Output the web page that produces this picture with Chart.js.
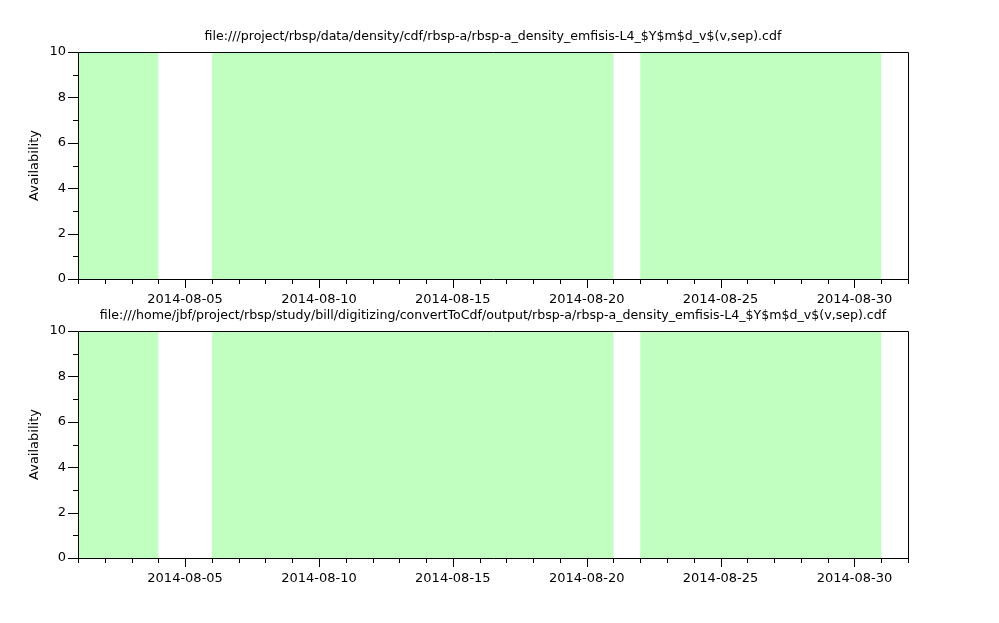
<!DOCTYPE html>
<html>
<head>
<meta charset="utf-8">
<script src="https://cdn.jsdelivr.net/npm/chart.js@4"></script>
<style>
  body { margin: 0; background: #fff; }
  #wrap { position: relative; width: 999px; height: 623px; }
  canvas { position: absolute; left: 0; }
</style>
</head>
<body>
<div id="wrap">
  <canvas id="top" width="999" height="311" style="top:0"></canvas>
  <canvas id="bottom" width="999" height="333" style="top:290px"></canvas>
</div>
<script>
// day of month in August 2014 (32 = 2014-09-01, right edge)
const days = [1, 2, 3, 4, 5, 6, 7, 8, 9, 10, 11, 12, 13, 14, 15, 16,
              17, 18, 19, 20, 21, 22, 23, 24, 25, 26, 27, 28, 29, 30, 31, 32];
// availability per day (10 = file present, 0 = missing)
const availTop = [10, 10, 10, 0, 0, 10, 10, 10, 10, 10, 10, 10, 10, 10, 10, 10,
                  10, 10, 10, 10, 0, 10, 10, 10, 10, 10, 10, 10, 10, 10, 0, 0];
const availBottom = [10, 10, 10, 0, 0, 10, 10, 10, 10, 10, 10, 10, 10, 10, 10, 10,
                     10, 10, 10, 10, 0, 10, 10, 10, 10, 10, 10, 10, 10, 10, 0, 0];
const majorDays = [5, 10, 15, 20, 25, 30];
const yTicks = [0, 2, 4, 6, 8, 10];
const yMinor = [1, 3, 5, 7, 9];
const titleTop = "file:///project/rbsp/data/density/cdf/rbsp-a/rbsp-a_density_emfisis-L4_$Y$m$d_v$(v,sep).cdf";
const titleBottom = "file:///home/jbf/project/rbsp/study/bill/digitizing/convertToCdf/output/rbsp-a/rbsp-a_density_emfisis-L4_$Y$m$d_v$(v,sep).cdf";

const FONT = { family: "'DejaVu Sans', sans-serif", size: 13 };

function pad2(n) { return n < 10 ? "0" + n : "" + n; }

// draws the title over the plot, the box and the major/minor tick marks
const axisMarks = {
    id: "axisMarks",
    afterDraw(chart, args, opts) {
        const ctx = chart.ctx;
        const a = chart.chartArea;
        const xs = chart.scales.x, ys = chart.scales.y;
        ctx.save();
        ctx.fillStyle = "#000";
        ctx.font = "12.6px " + FONT.family;
        ctx.textAlign = "center";
        ctx.textBaseline = "middle";
        ctx.fillText(opts.text, (a.left + a.right) / 2, a.top - 15);

        ctx.strokeStyle = "#000";
        ctx.lineWidth = 1;
        ctx.beginPath();
        ctx.rect(Math.round(a.left) + 0.5, Math.round(a.top) + 0.5,
                 Math.round(a.right - a.left), Math.round(a.bottom - a.top));
        days.forEach(d => {
            const px = Math.round(xs.getPixelForValue(d)) + 0.5;
            const len = majorDays.includes(d) ? 9 : 5;
            ctx.moveTo(px, Math.round(a.bottom));
            ctx.lineTo(px, Math.round(a.bottom) + len);
        });
        yTicks.forEach(v => {
            const py = Math.round(ys.getPixelForValue(v)) + 0.5;
            ctx.moveTo(Math.round(a.left), py);
            ctx.lineTo(Math.round(a.left) - 10, py);
        });
        yMinor.forEach(v => {
            const py = Math.round(ys.getPixelForValue(v)) + 0.5;
            ctx.moveTo(Math.round(a.left), py);
            ctx.lineTo(Math.round(a.left) - 5, py);
        });
        ctx.stroke();
        ctx.restore();
    }
};

function makePanel(id, title, values, padTop, axisHeight) {
    return new Chart(document.getElementById(id), {
        type: "line",
        data: {
            datasets: [{
                data: days.map((d, i) => ({ x: d, y: values[i] })),
                stepped: "before",
                fill: "origin",
                backgroundColor: "rgb(192,255,192)",
                borderWidth: 0,
                pointRadius: 0
            }]
        },
        options: {
            responsive: false,
            animation: false,
            layout: { padding: { left: 0, right: 91, top: padTop, bottom: 0 } },
            plugins: {
                legend: { display: false },
                tooltip: { enabled: false },
                title: { display: false },
                axisMarks: { text: title }
            },
            scales: {
                x: {
                    type: "linear",
                    min: 1,
                    max: 32,
                    grid: { display: false, drawTicks: false },
                    border: { display: false },
                    afterFit(s) { s.height = axisHeight; },
                    ticks: {
                        stepSize: 1,
                        autoSkip: false,
                        maxRotation: 0,
                        padding: 13,
                        color: "#000",
                        font: FONT,
                        callback: v => majorDays.includes(v) ? "2014-08-" + pad2(v) : ""
                    }
                },
                y: {
                    min: 0,
                    max: 10,
                    grid: { display: false, drawTicks: false },
                    border: { display: false },
                    afterFit(s) { s.width = 78; },
                    ticks: { stepSize: 2, padding: 12, color: "#000", font: FONT },
                    title: {
                        display: true,
                        text: "Availability",
                        color: "#000",
                        font: FONT,
                        padding: { top: 27, bottom: 0 }
                    }
                }
            }
        },
        plugins: [axisMarks]
    });
}

makePanel("top", titleTop, availTop, 52, 32);
makePanel("bottom", titleBottom, availBottom, 41, 65);
</script>
</body>
</html>
